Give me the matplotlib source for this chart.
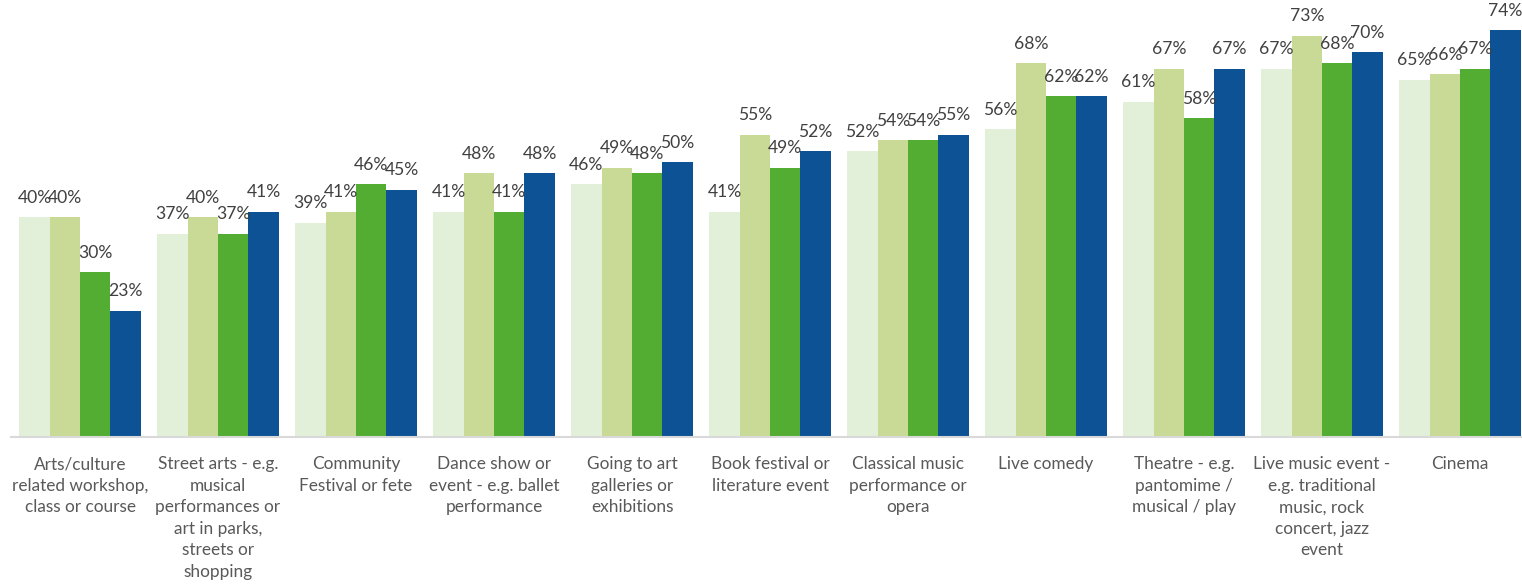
import matplotlib.pyplot as plt
import numpy as np

categorias = [
    "Arts/culture\nrelated workshop,\nclass or course",
    "Street arts - e.g.\nmusical\nperformances or\nart in parks,\nstreets or\nshopping",
    "Community\nFestival or fete",
    "Dance show or\nevent - e.g. ballet\nperformance",
    "Going to art\ngalleries or\nexhibitions",
    "Book festival or\nliterature event",
    "Classical music\nperformance or\nopera",
    "Live comedy",
    "Theatre - e.g.\npantomime /\nmusical / play",
    "Live music event -\ne.g. traditional\nmusic, rock\nconcert, jazz\nevent",
    "Cinema",
]
serie1 = [40, 37, 39, 41, 46, 41, 52, 56, 61, 67, 65]
serie2 = [40, 40, 41, 48, 49, 55, 54, 68, 67, 73, 66]
serie3 = [30, 37, 46, 41, 48, 49, 54, 62, 58, 68, 67]
serie4 = [23, 41, 45, 48, 50, 52, 55, 62, 67, 70, 74]

series = [serie1, serie2, serie3, serie4]
colores = ["#E2F0D9", "#C9DA96", "#53AD32", "#0D5294"]

plt.rcParams['font.family'] = ['Lato', 'DejaVu Sans']

fig = plt.figure(figsize=(15.22, 5.87), dpi=100)
ax = fig.add_axes([11 / 1522, 150 / 587, 1511 / 1522, 429 / 587])

x = np.arange(len(categorias))
ancho = 0.22
for k, (vals, col) in enumerate(zip(series, colores)):
    pos = x + (k - 1.5) * ancho
    ax.bar(pos, vals, width=ancho, color=col, edgecolor='none', zorder=2)
    for p, v in zip(pos, vals):
        ax.annotate(f"{v}%", (p, v), xytext=(0, 8), textcoords='offset points',
                    ha='center', va='bottom', fontsize=12.6, color='#404040')

ax.set_xlim(-0.5, 10.5 - 7 / 138)
ax.set_ylim(0, 78)
ax.set_yticks([])
ax.set_xticks(x)
ax.set_xticklabels(categorias, fontsize=12.4, color='#595959', linespacing=1.42, va='top')
ax.tick_params(axis='x', length=0, pad=14)
for lado in ['top', 'right', 'left']:
    ax.spines[lado].set_visible(False)
ax.spines['bottom'].set_color('#D9D9D9')
ax.spines['bottom'].set_linewidth(1.5)

fig.savefig("out.png", dpi=100)
